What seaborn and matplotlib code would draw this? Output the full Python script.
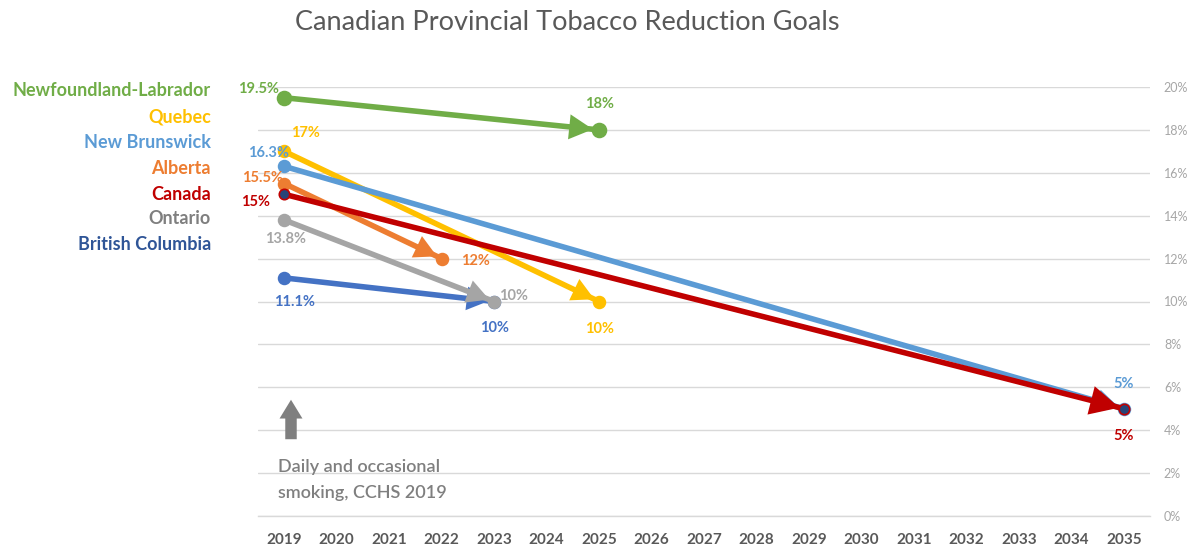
import matplotlib
matplotlib.use("Agg")
import matplotlib.pyplot as plt
import seaborn as sns
import pandas as pd

# ---------------- data ----------------
years = list(range(2019, 2036))
regions = ["Newfoundland-Labrador", "Quebec", "New Brunswick", "Alberta",
           "Canada", "Ontario", "British Columbia"]
start_year = [2019, 2019, 2019, 2019, 2019, 2019, 2019]
end_year = [2025, 2025, 2035, 2022, 2035, 2023, 2023]
start_val = [19.5, 17.0, 16.3, 15.5, 15.0, 13.8, 11.1]
end_val = [18.0, 10.0, 5.0, 12.0, 5.0, 10.0, 10.0]
start_labels = ["19.5%", "17%", "16.3%", "15.5%", "15%", "13.8%", "11.1%"]
end_labels = ["18%", "10%", "5%", "12%", "5%", "10%", "10%"]
y_ticks = [0, 2, 4, 6, 8, 10, 12, 14, 16, 18, 20]
y_tick_labels = [f"{v}%" for v in y_ticks]

# ---------------- style ----------------
colors = {
    "Newfoundland-Labrador": "#70AD47",
    "Quebec": "#FFC000",
    "New Brunswick": "#5B9BD5",
    "Alberta": "#ED7D31",
    "Canada": "#C00000",
    "Ontario": "#A5A5A5",
    "British Columbia": "#4472C4",
}
legend_colors = dict(colors)
legend_colors["British Columbia"] = "#2F5597"
legend_colors["Ontario"] = "#7F7F7F"
marker_face = {r: colors[r] for r in regions}
marker_face["Canada"] = "#264478"
marker_size = {r: 8.5 for r in regions}
marker_size["Newfoundland-Labrador"] = 10
marker_size["Canada"] = 7.5
head = {r: (16, 8.5) for r in regions}
head["Canada"] = (21, 10.5)
head["Newfoundland-Labrador"] = (17, 9)
draw_order = {"Newfoundland-Labrador": 0, "Quebec": 1, "New Brunswick": 2, "Alberta": 3,
              "Canada": 4, "British Columbia": 5, "Ontario": 6}
# label offsets in pixels (dx, dy)
start_off = {
    "Newfoundland-Labrador": (-26, 9), "Quebec": (21, 18), "New Brunswick": (-16, 13),
    "Alberta": (-22, 6), "Canada": (-29, -8), "Ontario": (1, -19), "British Columbia": (10, -24),
}
end_off = {
    "Newfoundland-Labrador": (0, 26), "Quebec": (0, -28), "New Brunswick": (0, 25),
    "Alberta": (34, -2), "Canada": (0, -27), "Ontario": (19, 5), "British Columbia": (0, -27),
}

FONT = ["Lato", "DejaVu Sans"]
sns.set_theme(style="white")
plt.rcParams["font.family"] = FONT

fig = plt.figure(figsize=(11.89, 5.48), dpi=100)
ax = fig.add_axes([258 / 1189, 1 - 516 / 548, (1150 - 258) / 1189, (516 - 87) / 548])

rows = []
for i, r in enumerate(regions):
    rows.append({"region": r, "year": start_year[i], "value": start_val[i]})
    rows.append({"region": r, "year": end_year[i], "value": end_val[i]})
df = pd.DataFrame(rows)

for i, r in enumerate(regions):
    sub = df[df.region == r]
    z = 3 + draw_order[r]
    sns.lineplot(data=sub, x="year", y="value", ax=ax, color=colors[r], lw=4.0,
                 marker="o", markersize=marker_size[r], markerfacecolor=marker_face[r],
                 markeredgecolor=colors[r], markeredgewidth=1.2, zorder=z,
                 legend=False, sort=False)
    hl, hw = head[r]
    ax.annotate("", xy=(end_year[i], end_val[i]), xytext=(start_year[i], start_val[i]),
                arrowprops=dict(arrowstyle=f"-|>,head_length={hl},head_width={hw}",
                                mutation_scale=1, color=colors[r], lw=0.01,
                                shrinkA=0, shrinkB=marker_size[r] / 2 - 0.5),
                zorder=z)
    ax.annotate(start_labels[i], xy=(start_year[i], start_val[i]),
                xytext=start_off[r], textcoords="offset pixels", ha="center", va="center",
                color=colors[r], fontsize=10.5, fontweight="bold", zorder=20)
    ax.annotate(end_labels[i], xy=(end_year[i], end_val[i]),
                xytext=end_off[r], textcoords="offset pixels", ha="center", va="center",
                color=colors[r], fontsize=10.5, fontweight="bold", zorder=20)

# axes formatting
ax.set_xlim(years[0] - 0.5, years[-1] + 0.5)
ax.set_ylim(0, 20)
ax.set_xticks(years)
ax.set_xticklabels([str(y) for y in years], fontsize=11, fontweight="bold", color="#595959")
ax.set_xticks([y - 0.5 for y in years] + [years[-1] + 0.5], minor=True)
ax.tick_params(axis="x", which="major", length=0, pad=12)
ax.tick_params(axis="x", which="minor", length=5, color="#D9D9D9", width=1, direction="out")
ax.yaxis.tick_right()
ax.set_yticks(y_ticks)
ax.set_yticklabels(y_tick_labels, fontsize=9, color="#A6A6A6")
ax.tick_params(axis="y", length=0, pad=10)
ax.grid(axis="y", color="#D9D9D9", lw=1)
ax.set_axisbelow(True)
for s in ["top", "left", "right"]:
    ax.spines[s].set_visible(False)
ax.spines["bottom"].set_color("#D9D9D9")
ax.spines["bottom"].set_linewidth(1)
ax.set_xlabel("")
ax.set_ylabel("")

# left legend as coloured text
leg_y = [91, 117, 143, 168, 194, 219, 245]
for r, yp in zip(regions, leg_y):
    fig.text(211 / 1189, 1 - yp / 548, r, ha="right", va="center", fontsize=13,
             fontweight="bold", color=legend_colors[r])

# title
fig.text(567 / 1189, 1 - 22 / 548, "Canadian Provincial Tobacco Reduction Goals",
         ha="center", va="center", fontsize=19.5, color="#595959")

# note with grey block arrow
ax.annotate("", xy=(291 / 1189, 1 - 397 / 548), xytext=(291 / 1189, 1 - 442 / 548),
            xycoords="figure fraction", textcoords="figure fraction",
            arrowprops=dict(arrowstyle="simple,head_length=0.9,head_width=1.1,tail_width=0.55",
                            mutation_scale=15, color="#7F7F7F", lw=0))
fig.text(278 / 1189, 1 - 467 / 548, "Daily and occasional", ha="left", va="center",
         fontsize=13, color="#7F7F7F", fontweight="semibold")
fig.text(278 / 1189, 1 - 493 / 548, "smoking, CCHS 2019", ha="left", va="center",
         fontsize=13, color="#7F7F7F", fontweight="semibold")

fig.savefig("out.png", dpi=100)
